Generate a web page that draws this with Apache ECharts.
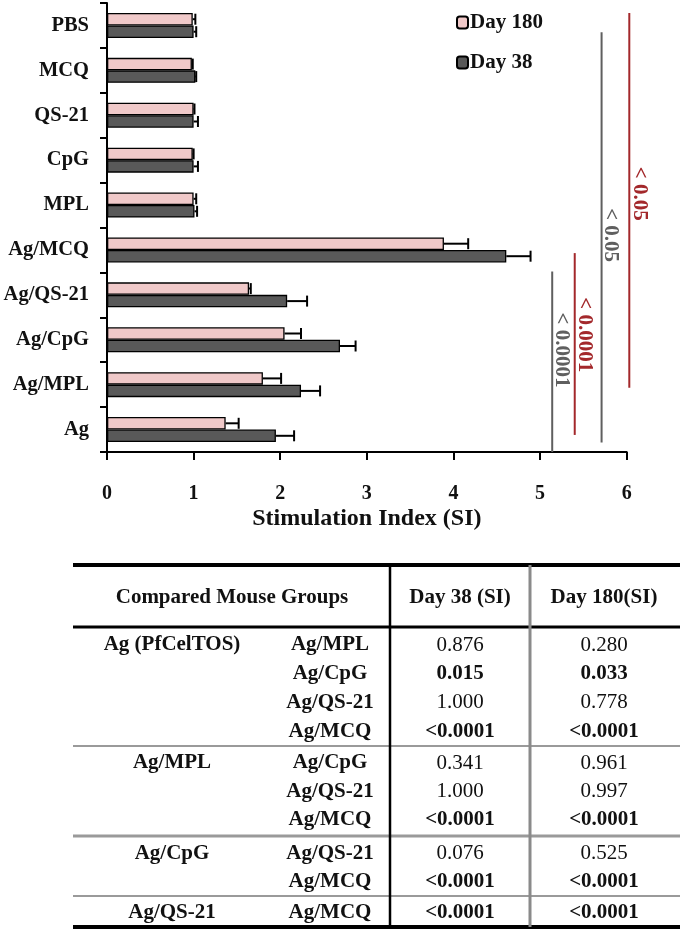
<!DOCTYPE html>
<html>
<head>
<meta charset="utf-8">
<script src="https://cdn.jsdelivr.net/npm/echarts@6/dist/echarts.min.js"></script>
<style>html,body{margin:0;padding:0;background:#fff}#c{width:680px;height:929px}</style>
</head>
<body>
<div id="c"></div>
<script>
// ---- chart data (top to bottom) ----
const categories = ['PBS','MCQ','QS-21','CpG','MPL','Ag/MCQ','Ag/QS-21','Ag/CpG','Ag/MPL','Ag'];
const day180 = [0.99, 0.98, 1.00, 0.99, 1.00, 3.89, 1.64, 2.05, 1.80, 1.37];
const day180Err = [0.03, 0.01, 0.01, 0.01, 0.03, 0.28, 0.02, 0.19, 0.21, 0.15];
const day38 = [1.00, 1.02, 1.00, 1.00, 1.01, 4.61, 2.08, 2.69, 2.24, 1.95];
const day38Err = [0.03, 0.01, 0.05, 0.05, 0.03, 0.28, 0.23, 0.18, 0.22, 0.21];
const xTicks = [0, 1, 2, 3, 4, 5, 6];
// significance brackets: [x value, top (category units), bottom (category units), label, colour key]
const bracketX = [5.14, 5.40, 5.71, 6.03];
const bracketTop = [5.48, 5.07, 0.15, -0.28];
const bracketBottom = [9.5, 9.12, 9.29, 8.07];
const bracketLabel = ['< 0.0001', '< 0.0001', '< 0.05', '< 0.05'];
const bracketColor = ['gray', 'red', 'gray', 'red'];
const bracketLabelX = [5.25, 5.51, 5.81, 6.15];
const bracketLabelY = [7.23, 6.89, 4.67, 3.75];

// ---- table data ----
const tableHeader = ['Compared Mouse Groups', 'Day 38 (SI)', 'Day 180(SI)'];
const tableGroup = ['Ag (PfCelTOS)', '', '', '', 'Ag/MPL', '', '', 'Ag/CpG', '', 'Ag/QS-21'];
const tableCompare = ['Ag/MPL','Ag/CpG','Ag/QS-21','Ag/MCQ','Ag/CpG','Ag/QS-21','Ag/MCQ','Ag/QS-21','Ag/MCQ','Ag/MCQ'];
const pDay38 = ['0.876','0.015','1.000','<0.0001','0.341','1.000','<0.0001','0.076','<0.0001','<0.0001'];
const pDay180 = ['0.280','0.033','0.778','<0.0001','0.961','0.997','<0.0001','0.525','<0.0001','<0.0001'];
const pBold38 = [false,true,false,true,false,false,true,false,true,true];
const pBold180 = [false,true,false,true,false,false,true,false,true,true];

const FONT = '"Liberation Serif", "Times New Roman", serif';
const COL = {gray: '#5f5f5f', red: '#a3282b'};
const PINK = '#f0c9c9', DARK = '#595959';
const BAR_W = 12.5;

const chart = echarts.init(document.getElementById('c'), null, {renderer: 'canvas'});

function errItem(vals, errs) {
  return vals.map((v, i) => [i, v, errs[i]]);
}
function errRender(offset) {
  return function (params, api) {
    const cat = api.value(0), v = api.value(1), e = api.value(2);
    const p0 = api.coord([v, cat]);
    const p1 = api.coord([v + e, cat]);
    const y = p0[1] + offset;
    return {
      type: 'group',
      children: [
        {type: 'line', shape: {x1: p0[0], y1: y, x2: p1[0], y2: y}, style: {stroke: '#000', lineWidth: 2}},
        {type: 'line', shape: {x1: p1[0], y1: y - 5.5, x2: p1[0], y2: y + 5.5}, style: {stroke: '#000', lineWidth: 2}}
      ]
    };
  };
}
function catY(api, c) {
  const a = api.coord([0, 0])[1], b = api.coord([0, 1])[1];
  return a + c * (b - a);
}

// table graphics
const tg = [];
const L = 73, R = 680, V1 = 390, V2 = 530;
const rowY = [645, 673.5, 702.5, 731.5, 763, 791.5, 820, 853.5, 882, 913];
const hline = (y, w, c) => tg.push({type: 'line', shape: {x1: L, y1: y, x2: R, y2: y}, style: {stroke: c, lineWidth: w}, z: 10});
hline(565, 4, '#000');
hline(627, 3, '#000');
hline(746, 2, '#9a9a9a');
hline(836, 3, '#9a9a9a');
hline(896, 2, '#9a9a9a');
hline(927, 4, '#000');
tg.push({type: 'line', shape: {x1: V1, y1: 565, x2: V1, y2: 927}, style: {stroke: '#000', lineWidth: 2.5}, z: 11});
tg.push({type: 'line', shape: {x1: V2, y1: 565, x2: V2, y2: 927}, style: {stroke: '#8a8a8a', lineWidth: 3}, z: 11});
const txt = (s, x, y, bold) => tg.push({type: 'text', x: x, y: y, z: 12, style: {text: s, fill: '#111', font: (bold ? 'bold ' : '') + '21px ' + FONT, align: 'center', verticalAlign: 'middle'}});
txt(tableHeader[0], 232, 598, true);
txt(tableHeader[1], 460, 598, true);
txt(tableHeader[2], 604, 598, true);
for (let i = 0; i < tableCompare.length; i++) {
  if (tableGroup[i]) txt(tableGroup[i], 172, rowY[i], true);
  txt(tableCompare[i], 330, rowY[i], true);
  txt(pDay38[i], 460, rowY[i], pBold38[i]);
  txt(pDay180[i], 604, rowY[i], pBold180[i]);
}

const option = {
  animation: false,
  backgroundColor: '#fff',
  textStyle: {fontFamily: FONT},
  legend: {
    data: ['Day 180', 'Day 38'],
    orient: 'vertical',
    left: 451, top: 7,
    itemWidth: 11, itemHeight: 12, itemGap: 19,
    textStyle: {fontFamily: FONT, fontWeight: 'bold', fontSize: 21, color: '#111', padding: [0, 0, 0, -3]}
  },
  grid: {left: 107, right: 53.3, top: 3, bottom: 477, containLabel: false},
  xAxis: {
    type: 'value', min: 0, max: 6, interval: 1,
    name: 'Stimulation Index (SI)', nameLocation: 'middle', nameGap: 55,
    nameTextStyle: {fontFamily: FONT, fontWeight: 'bold', fontSize: 24, color: '#111'},
    axisLine: {show: true, lineStyle: {color: '#000', width: 2}},
    axisTick: {show: true, length: 8, lineStyle: {color: '#000', width: 2}},
    axisLabel: {margin: 32, fontFamily: FONT, fontWeight: 'bold', fontSize: 20, color: '#111',
      formatter: v => xTicks.indexOf(v) >= 0 ? String(v) : ''},
    splitLine: {show: false}
  },
  yAxis: {
    type: 'category', data: categories, inverse: true,
    axisLine: {show: true, lineStyle: {color: '#000', width: 2}},
    axisTick: {show: true, length: 7, lineStyle: {color: '#000', width: 2}},
    axisLabel: {margin: 18, fontFamily: FONT, fontWeight: 'bold', fontSize: 20.5, color: '#111'},
    splitLine: {show: false}
  },
  series: [
    {name: 'Day 180', type: 'bar', data: day180, barWidth: BAR_W, barGap: '0%',
      itemStyle: {color: PINK, borderColor: '#000', borderWidth: 1.3}, z: 2},
    {name: 'Day 38', type: 'bar', data: day38, barWidth: BAR_W, barGap: '0%',
      itemStyle: {color: DARK, borderColor: '#000', borderWidth: 1.3}, z: 2},
    {name: 'err180', type: 'custom', data: errItem(day180, day180Err), renderItem: errRender(-BAR_W / 2), z: 3,
      encode: {x: [1], y: 0}, silent: true},
    {name: 'err38', type: 'custom', data: errItem(day38, day38Err), renderItem: errRender(BAR_W / 2), z: 3,
      encode: {x: [1], y: 0}, silent: true},
    {name: 'brackets', type: 'custom', clip: false, silent: true, z: 4,
      data: bracketX.map((x, i) => [x, bracketTop[i], bracketBottom[i], i]),
      encode: {x: 0},
      renderItem: function (params, api) {
        const i = api.value(3);
        const x = api.coord([api.value(0), 0])[0];
        return {type: 'line', shape: {x1: x, y1: catY(api, api.value(1)), x2: x, y2: catY(api, api.value(2))},
          style: {stroke: COL[bracketColor[i]], lineWidth: 2}};
      }},
    {name: 'bracketLabels', type: 'custom', clip: false, silent: true, z: 5,
      data: bracketLabelX.map((x, i) => [x, bracketLabelY[i], i]),
      encode: {x: 0},
      renderItem: function (params, api) {
        const i = api.value(2);
        const x = api.coord([api.value(0), 0])[0];
        const y = catY(api, api.value(1));
        return {type: 'text', x: x, y: y, rotation: -Math.PI / 2,
          style: {text: bracketLabel[i], fill: COL[bracketColor[i]], font: 'bold 21px ' + FONT, align: 'center', verticalAlign: 'middle'}};
      }}
  ],
  graphic: tg
};
chart.setOption(option);
</script>
</body>
</html>
